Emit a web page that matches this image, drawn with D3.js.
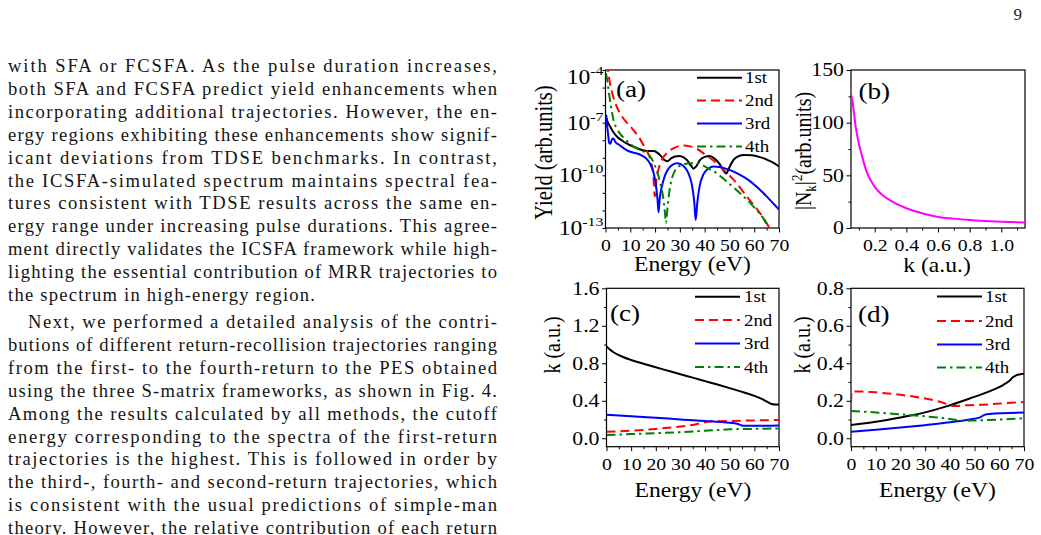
<!DOCTYPE html>
<html>
<head>
<meta charset="utf-8">
<script src="https://cdn.jsdelivr.net/npm/d3@7"></script>
<style>
  body { margin: 0; background: #fff; }
  svg { display: block; }
</style>
</head>
<body>
<svg id="page" width="1041" height="535"></svg>
<script>
const SX = 1.18; // the figure lettering is stretched sideways in the page
const SERIF = "'Liberation Serif', 'Times New Roman', serif";

// ---------- left column text ----------
const paraOne = [
  'with SFA or FCSFA. As the pulse duration increases,',
  'both SFA and FCSFA predict yield enhancements when',
  'incorporating additional trajectories. However, the en-',
  'ergy regions exhibiting these enhancements show signif-',
  'icant deviations from TDSE benchmarks. In contrast,',
  'the ICSFA-simulated spectrum maintains spectral fea-',
  'tures consistent with TDSE results across the same en-',
  'ergy range under increasing pulse durations. This agree-',
  'ment directly validates the ICSFA framework while high-',
  'lighting the essential contribution of MRR trajectories to',
  'the spectrum in high-energy region.'
];
const paraTwo = [
  'Next, we performed a detailed analysis of the contri-',
  'butions of different return-recollision trajectories ranging',
  'from the first- to the fourth-return to the PES obtained',
  'using the three S-matrix frameworks, as shown in Fig. 4.',
  'Among the results calculated by all methods, the cutoff',
  'energy corresponding to the spectra of the first-return',
  'trajectories is the highest. This is followed in order by',
  'the third-, fourth- and second-return trajectories, which',
  'is consistent with the usual predictions of simple-man',
  'theory. However, the relative contribution of each return'
];

// ---------- figure data ----------
const returnNames = ['1st', '2nd', '3rd', '4th'];
const returnColors = ['#000000', '#ff0000', '#0000ff', '#008000'];
const returnDashes = [null, '9,5', null, '9,4,2.5,4'];

// (a) yield vs energy, as [eV, log10 yield]
const yieldFirst = [[0.2,-6.55],[0.6,-6.85],[1,-7.0],[2,-7.25],[3,-7.5],[4.7,-7.8],[6.5,-8.0],[8.7,-8.2],
  [11,-8.35],[13,-8.47],[15.5,-8.58],[17.5,-8.62],[19.5,-8.62],[21,-8.72],[22.5,-8.92],[24,-9.15],[25,-9.2],
  [26.3,-9.05],[28,-8.93],[30,-8.9],[31.5,-8.98],[33,-9.15],[34.5,-9.45],[35.5,-9.62],[36.5,-9.5],[38,-9.15],
  [40,-8.95],[42,-8.9],[44,-9.05],[46,-9.35],[47.5,-9.7],[48.7,-9.9],[49.8,-9.6],[51.5,-9.15],[53.5,-8.92],
  [56,-8.84],[59,-8.86],[62,-8.95],[65,-9.1],[68,-9.3],[70,-9.5]];
const yieldSecond = [[0.6,-3.6],[1,-4.0],[1.5,-4.5],[2.5,-5.2],[4,-5.9],[6,-6.5],[8,-6.9],[10,-7.2],[12,-7.55],
  [14,-7.95],[16,-8.45],[17.5,-8.85],[18.5,-9.3],[19.3,-10.0],[19.9,-11.2],[20.6,-10.2],[21.5,-9.6],[23,-9.05],
  [25,-8.7],[28,-8.42],[31,-8.3],[34,-8.35],[37,-8.5],[40,-8.8],[43,-9.1],[47,-9.6],[52,-10.3],[57,-11.2],
  [61,-11.9],[64.5,-12.6],[66.6,-13.1]];
const yieldThird = [[0.1,-6.6],[0.5,-7.0],[1,-7.6],[1.5,-8.15],[2,-8.2],[2.6,-7.95],[3.2,-7.9],[4,-8.1],[5,-8.22],
  [7,-8.42],[9,-8.6],[11,-8.7],[13,-8.77],[15,-8.9],[16.5,-9.05],[18,-9.35],[19.3,-9.8],[20.3,-10.5],[21,-11.4],
  [21.4,-12.1],[21.9,-11.3],[22.8,-10.6],[24,-10.0],[25.5,-9.6],[27,-9.4],[28.8,-9.31],[30.5,-9.38],[32,-9.55],
  [33.5,-9.9],[34.8,-10.5],[35.8,-11.5],[36.4,-12.55],[37,-11.6],[38,-10.6],[39.5,-9.95],[41.5,-9.62],
  [43.6,-9.5],[46,-9.52],[48,-9.6],[51,-9.75],[54.3,-9.98],[58,-10.3],[61,-10.65],[65,-11.2],[68,-11.65],[70,-11.95]];
const yieldFourth = [[0.2,-4.2],[0.6,-4.5],[1,-4.9],[1.7,-5.6],[2.5,-6.3],[3.3,-6.9],[4.5,-7.3],[6,-7.65],
  [8,-7.95],[11.4,-8.37],[15.4,-8.65],[18.1,-8.94],[20.1,-9.5],[22.1,-10.45],[23.2,-11.2],[23.9,-12.0],
  [24.4,-12.7],[25,-11.9],[25.6,-11.1],[26.8,-10.17],[28,-9.75],[29.5,-9.5],[32,-9.35],[34.2,-9.31],
  [37.5,-9.31],[39.5,-9.45],[42,-9.65],[44.9,-9.88],[48.9,-10.36],[54.3,-11.02],[59.7,-11.78],[63.7,-12.45],[66.2,-13.1]];

// (b) |N_k|^2 vs k
const normFactor = [[0.05,127],[0.06,120],[0.07,108],[0.08,96],[0.1,80],[0.12,68],[0.15,53],[0.2,39],[0.25,31],
  [0.3,26],[0.4,18.7],[0.5,14],[0.6,10.5],[0.7,8.9],[0.8,7.6],[0.9,6.7],[1.0,6.0],[1.15,5.3]];

// (c) return momentum k vs energy
const kFirstC = [[0,0.98],[1,0.955],[3,0.915],[6,0.875],[10,0.835],[15,0.795],[20,0.757],[25,0.72],[30,0.683],
  [35,0.647],[40,0.61],[45,0.573],[50,0.535],[55,0.495],[60,0.452],[63,0.42],[65.5,0.385],[67,0.365],[68.5,0.36],[70,0.36]];
const kSecondC = [[0,0.07],[10,0.08],[20,0.1],[30,0.125],[36,0.148],[39,0.165],[42,0.18],[50,0.185],[60,0.19],[70,0.195]];
const kThirdC = [[0,0.25],[10,0.235],[20,0.22],[30,0.2],[40,0.185],[50,0.165],[53,0.155],[55.5,0.133],[60,0.133],[70,0.135]];
const kFourthC = [[0,0.035],[10,0.045],[20,0.055],[30,0.065],[40,0.08],[50,0.095],[60,0.1],[70,0.105]];

// (d) return momentum k vs energy
const kFirstD = [[0,0.071],[10,0.088],[20,0.111],[30,0.138],[38.6,0.17],[48,0.212],[56,0.25],[61.5,0.284],
  [64,0.305],[65.5,0.325],[67,0.337],[68.5,0.342],[70,0.344]];
const kSecondD = [[0,0.19],[0.3,0.25],[5,0.25],[10,0.245],[20,0.232],[30,0.212],[36,0.195],[42,0.172],[46,0.176],
  [55,0.18],[62,0.187],[70,0.193]];
const kThirdD = [[0,0.035],[10,0.045],[20,0.057],[30,0.07],[40,0.085],[48,0.1],[52,0.11],[54,0.125],[56,0.13],[70,0.137]];
const kFourthD = [[0,0.146],[10,0.138],[20,0.128],[30,0.117],[40,0.103],[45,0.093],[50,0.095],[60,0.1],[70,0.106]];

// ticks
const energyTicks = [0, 10, 20, 30, 40, 50, 60, 70];
const energyMinor = [5, 15, 25, 35, 45, 55, 65];
const yieldDecades = [-4, -5, -6, -7, -8, -9, -10, -11, -12, -13];
const yieldLabels = [-4, -7, -10, -13];
const kTicksB = [0.2, 0.4, 0.6, 0.8, 1.0];
const kMinorB = [0.1, 0.3, 0.5, 0.7, 0.9, 1.1];
const normTicks = [0, 50, 100, 150];
const normMinor = [25, 75, 125];
const kTicksC = [0, 0.4, 0.8, 1.2, 1.6];
const kMinorC = [0.2, 0.6, 1.0, 1.4];
const kTicksD = [0, 0.2, 0.4, 0.6, 0.8];
const kMinorD = [0.1, 0.3, 0.5, 0.7];

const svg = d3.select('#page');

// ---------- text column ----------
const col = svg.append('g')
  .attr('font-family', SERIF)
  .attr('font-size', 18.6)
  .attr('fill', '#141414');

function writeParagraph(lines, top, lastWidth) {
  lines.forEach((line, i) => {
    const indent = i === 0 && lines === paraTwo ? 20 : 0;
    const width = i === lines.length - 1 && lastWidth ? lastWidth : 489 - indent;
    col.append('text')
      .attr('x', 8 + indent)
      .attr('y', top + i * 22.9)
      .attr('textLength', width)
      .attr('lengthAdjust', 'spacing')
      .text(line);
  });
}
writeParagraph(paraOne, 72, 307);
writeParagraph(paraTwo, 328, null);

svg.append('text')
  .attr('x', 1022).attr('y', 20)
  .attr('text-anchor', 'end')
  .attr('font-family', SERIF).attr('font-size', 17)
  .attr('fill', '#222')
  .text('9');

// ---------- figure ----------
const fig = svg.append('g').attr('font-family', SERIF).attr('fill', '#000');

const xA = d3.scaleLinear().domain([0, 70]).range([605.5, 779]);
const yA = d3.scaleLog().domain([1e-13, 1e-4]).range([228, 70]);
const xB = d3.scaleLinear().domain([0.05, 1.15]).range([851, 1025]);
const yB = d3.scaleLinear().domain([0, 150]).range([228, 70]);
const xC = d3.scaleLinear().domain([0, 70]).range([606.5, 779]);
const yC = d3.scaleLinear().domain([-0.09, 1.6]).range([446.7, 288.3]);
const xD = d3.scaleLinear().domain([0, 70]).range([851, 1024]);
const yD = d3.scaleLinear().domain([-0.045, 0.8]).range([446.7, 288.3]);

function styleTicks(axisG, size) {
  axisG.attr('font-size', null).attr('font-family', null);
  axisG.select('.domain').remove();
  axisG.selectAll('text')
    .attr('font-size', size)
    .attr('font-family', SERIF)
    .attr('fill', '#000');
}

function bottomTicks(g, x, y0, major, minor, fmt) {
  g.append('g').attr('transform', `translate(0,${y0})`)
    .call(d3.axisBottom(x).tickValues(minor).tickSize(2.5).tickFormat(''))
    .call(a => a.select('.domain').remove());
  const ax = g.append('g').attr('transform', `translate(0,${y0})`)
    .call(d3.axisBottom(x).tickValues(major).tickSize(4.5).tickPadding(6).tickFormat(fmt));
  styleTicks(ax, 17.5);
  ax.selectAll('text').attr('transform', 'scale(1.13,1)');
}

function leftTicks(g, y, x0, major, minor, fmt) {
  g.append('g').attr('transform', `translate(${x0},0)`)
    .call(d3.axisLeft(y).tickValues(minor).tickSize(2.5).tickFormat(''))
    .call(a => a.select('.domain').remove());
  const ax = g.append('g').attr('transform', `translate(${x0},0)`)
    .call(d3.axisLeft(y).tickValues(major).tickSize(4.5).tickFormat(fmt || ''));
  styleTicks(ax, 18.5);
  ax.selectAll('text').attr('x', -7 / SX).attr('transform', `scale(${SX},1)`);
  return ax;
}

function frame(g, x, y, id) {
  const [l, r] = x.range(), [b, t] = y.range();
  g.append('clipPath').attr('id', id)
    .append('rect').attr('x', l).attr('y', t).attr('width', r - l).attr('height', b - t);
  g.append('rect')
    .attr('x', l).attr('y', t).attr('width', r - l).attr('height', b - t)
    .attr('fill', 'none').attr('stroke', '#000').attr('stroke-width', 1.2);
}

function curves(g, x, y, seriesList, id, toValue) {
  const line = d3.line()
    .x(d => x(d[0]))
    .y(d => y(toValue ? toValue(d[1]) : d[1]))
    .curve(d3.curveMonotoneX);
  g.append('g').attr('clip-path', `url(#${id})`)
    .selectAll('path')
    .data(seriesList)
    .join('path')
    .attr('d', d => line(d.values))
    .attr('fill', 'none')
    .attr('stroke', d => d.color)
    .attr('stroke-width', 2)
    .attr('stroke-dasharray', d => d.dash);
}

function legend(g, lineX0, lineX1, textX, rows) {
  returnNames.forEach((name, i) => {
    g.append('line')
      .attr('x1', lineX0).attr('x2', lineX1).attr('y1', rows[i]).attr('y2', rows[i])
      .attr('stroke', returnColors[i]).attr('stroke-width', 2)
      .attr('stroke-dasharray', returnDashes[i]);
    g.append('text')
      .attr('transform', `translate(${textX},${rows[i] + 5.5}) scale(${SX},1)`)
      .attr('font-size', 16)
      .text(name);
  });
}

function label(g, text, x, y, size, rotate) {
  return g.append('text')
    .attr('transform', rotate
      ? `translate(${x},${y}) rotate(-90) scale(1,${SX})`
      : `translate(${x},${y}) scale(${SX},1)`)
    .attr('text-anchor', 'middle')
    .attr('font-size', size)
    .text(text);
}

function panelTag(g, text, x, y) {
  g.append('text')
    .attr('transform', `translate(${x},${y}) scale(${SX},1)`)
    .attr('font-size', 23)
    .text(text);
}

function series(list) {
  return list.map((values, i) => ({values, color: returnColors[i], dash: returnDashes[i]}));
}

// ---- (a)
const gA = fig.append('g');
bottomTicks(gA, xA, 228, energyTicks, energyMinor, d3.format('d'));
gA.append('g').attr('transform', 'translate(605.5,0)')
  .call(d3.axisLeft(yA).tickValues(yieldDecades.map(p => 10 ** p)).tickSize(3).tickFormat(''))
  .call(a => a.select('.domain').remove());
yieldLabels.forEach((p, i) => {
  const t = gA.append('text')
    .attr('transform', `translate(${605.5 - 2},${yA(10 ** p) + (i === 0 ? 14 : 7)}) scale(${SX},1)`)
    .attr('text-anchor', 'end')
    .attr('font-size', 20);
  t.append('tspan').text('10');
  t.append('tspan').attr('dy', -9).attr('font-size', 13.5).text(String(p));
});
frame(gA, xA, yA, 'clipA');
curves(gA, xA, yA, series([yieldFirst, yieldSecond, yieldThird, yieldFourth]), 'clipA', v => 10 ** v);
legend(gA, 697, 742, 745, [77.7, 100.5, 123.5, 146.5]);
panelTag(gA, '(a)', 616, 97);
label(gA, 'Energy (eV)', 692.5, 270.5, 20);
label(gA, 'Yield (arb.units)', 552, 152.5, 20.5, true);

// ---- (b)
const gB = fig.append('g');
bottomTicks(gB, xB, 228, kTicksB, kMinorB, d3.format('.1f'));
leftTicks(gB, yB, 851, normTicks, normMinor, d3.format('d'));
frame(gB, xB, yB, 'clipB');
curves(gB, xB, yB, [{values: normFactor, color: '#ff00ff', dash: null}], 'clipB');
panelTag(gB, '(b)', 858.5, 99);
label(gB, 'k (a.u.)', 937, 272, 20);
const nLab = gB.append('text')
  .attr('transform', `translate(811,151) rotate(-90) scale(1,${SX})`)
  .attr('text-anchor', 'middle')
  .attr('font-size', 20);
nLab.append('tspan').text('|N');
nLab.append('tspan').attr('font-size', 13).attr('dy', 4).text('k');
nLab.append('tspan').attr('dy', -4).text('|');
nLab.append('tspan').attr('font-size', 13).attr('dy', -8).text('2');
nLab.append('tspan').attr('dy', 8).text('(arb.units)');

// ---- (c)
const gC = fig.append('g');
bottomTicks(gC, xC, 446.7, energyTicks, energyMinor, d3.format('d'));
leftTicks(gC, yC, 606.5, kTicksC, kMinorC, d3.format('.1f'));
frame(gC, xC, yC, 'clipC');
curves(gC, xC, yC, series([kFirstC, kSecondC, kThirdC, kFourthC]), 'clipC');
legend(gC, 695, 740, 744, [296.7, 320, 343.5, 367]);
panelTag(gC, '(c)', 610, 321);
label(gC, 'Energy (eV)', 693, 496.5, 20);
label(gC, 'k (a.u.)', 560, 345, 20, true);

// ---- (d)
const gD = fig.append('g');
bottomTicks(gD, xD, 446.7, energyTicks, energyMinor, d3.format('d'));
leftTicks(gD, yD, 851, kTicksD, kMinorD, d3.format('.1f'));
frame(gD, xD, yD, 'clipD');
curves(gD, xD, yD, series([kFirstD, kSecondD, kThirdD, kFourthD]), 'clipD');
legend(gD, 937, 982, 985, [296.5, 321, 344.5, 367.5]);
panelTag(gD, '(d)', 858, 322);
label(gD, 'Energy (eV)', 937.5, 496.5, 20);
label(gD, 'k (a.u.)', 810, 345, 20, true);
</script>
</body>
</html>
